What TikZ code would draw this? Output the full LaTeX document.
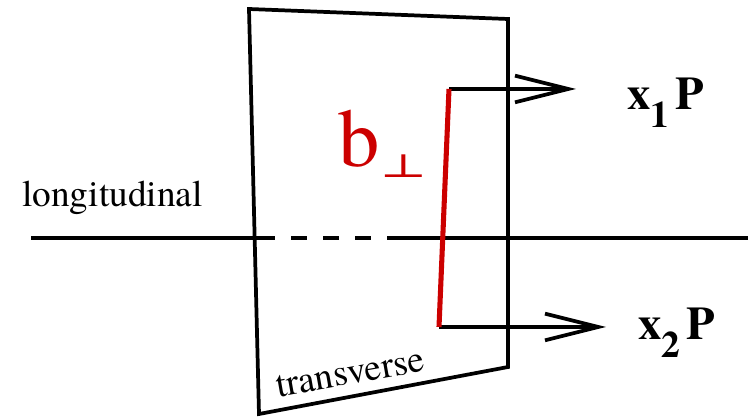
\documentclass[tikz,border=0pt]{standalone}
\usepackage{fontspec}
\setmainfont{texgyretermes}[Extension=.otf, UprightFont=*-regular, BoldFont=*-bold]
\newfontfamily\symfont{DejaVu Serif}
\usepackage{graphicx}
\usepackage{xcolor}
\usepackage{tikz}
\usetikzlibrary{arrows.meta}
\definecolor{bred}{RGB}{204,0,0}

\begin{document}
\begin{tikzpicture}[
        x=0.75pt, y=-0.75pt,
        edge/.style={line width=2.8pt, black, line join=miter},
        bline/.style={line width=3.8pt, bred},
        mom/.style={line width=2.8pt, -{Straight Barb[length=40pt, width=20pt, line width=2.8pt]}},
        txt/.style={inner sep=0pt, anchor=base west, font=\fontsize{28}{28}\selectfont},
        lab/.style={inner sep=0pt, anchor=base west, font=\fontsize{35}{35}\selectfont\bfseries}
    ]
    \useasboundingbox (0,0) rectangle (751,417);

    % transverse plane
    \coordinate (tl) at (249,9);
    \coordinate (tr) at (508,19);
    \coordinate (br) at (508,367);
    \coordinate (bl) at (259,414);
    \draw[edge] (tl) -- (tr) -- (br) -- (bl) -- cycle;

    % longitudinal axis
    \coordinate (ax0) at (31,238);
    \coordinate (ax1) at (275,238);
    \coordinate (ax2) at (291,238);
    \coordinate (ax3) at (387,238);
    \coordinate (ax4) at (748,238);
    \draw[edge] (ax0) -- (ax1);
    \draw[edge, dash pattern=on 12pt off 12pt] (ax2) -- (ax3);
    \draw[edge] (ax3) -- (ax4);

    % momenta
    \coordinate (q1) at (449,89);
    \coordinate (q2) at (439,327);
    \coordinate (p1) at (576,89);
    \coordinate (p2) at (606,327);
    \draw[mom] (q1) -- (p1);
    \draw[mom] (q2) -- (p2);

    % impact parameter
    \draw[bline] (q1) -- (q2);

    \node[txt] (lon) at (22,207) {longitudinal};
    \node[txt, rotate=10, anchor=base] (tra) at (352,384) {transverse};
    \node[inner sep=0pt, anchor=base west, text=bred, font=\fontsize{62}{62}\selectfont] (bperp) at (338,167)
        {b\raisebox{-8pt}{\scalebox{1}[0.65]{\symfont\fontsize{38}{38}\selectfont ⊥}}};
    \node[lab] (x1p) at (627,110) {x\raisebox{-13pt}{\fontsize{28}{28}\selectfont 1}\kern5pt P};
    \node[lab] (x2p) at (638,340) {x\raisebox{-13pt}{\fontsize{28}{28}\selectfont 2}\kern5pt P};

\end{tikzpicture}
\end{document}
